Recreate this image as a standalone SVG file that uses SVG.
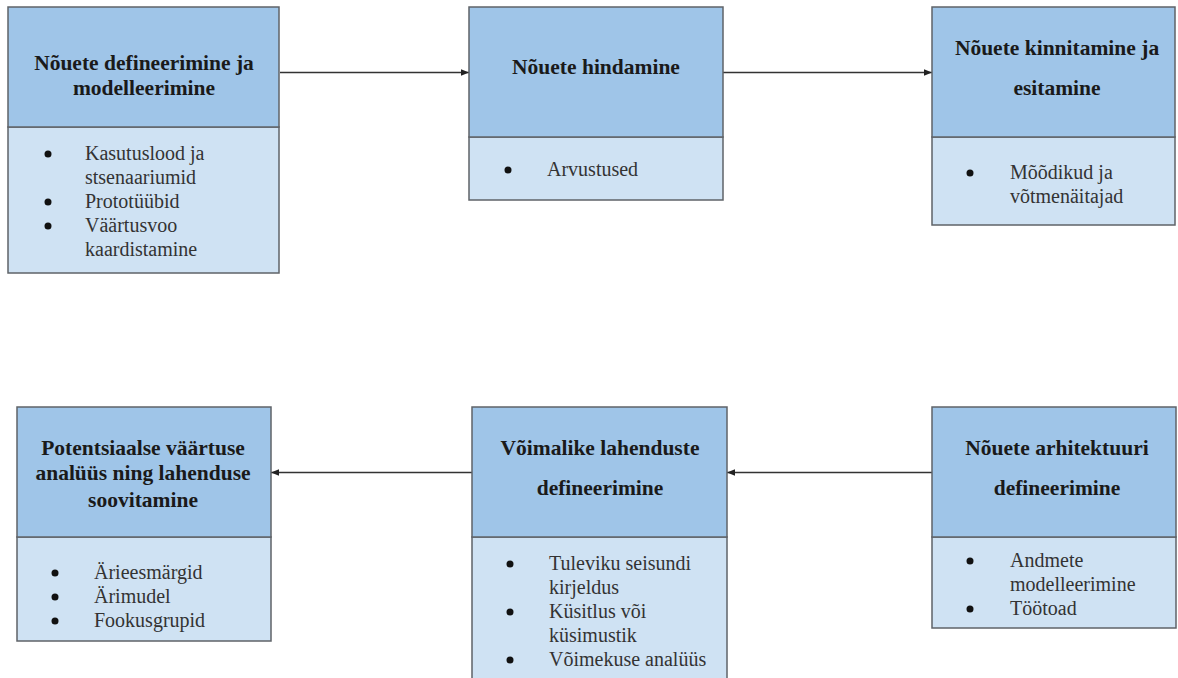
<svg xmlns="http://www.w3.org/2000/svg" width="1178" height="678" viewBox="0 0 1178 678">
<style>
.hd{fill:#9fc5e8;stroke:#5f6368;stroke-width:1.5}
.bd{fill:#cfe2f3;stroke:#5f6368;stroke-width:1.5}
.t{font-family:"Liberation Serif","Times New Roman",serif;font-weight:bold;font-size:21.5px;fill:#1a1a1a;text-anchor:middle}
.b{font-family:"Liberation Serif","Times New Roman",serif;font-size:20px;fill:#333}
.dot{fill:#111}
.c{stroke:#333;stroke-width:1.3;fill:none;marker-end:url(#ah)}
</style>
<defs>
<marker id="ah" viewBox="0 0 10 10" refX="10" refY="5" markerWidth="8" markerHeight="8" markerUnits="userSpaceOnUse" orient="auto">
<path d="M0,1 L10,5 L0,9 z" fill="#222"/>
</marker>
</defs>
<rect width="1178" height="678" fill="#fff"/>
<g id="connectors">
<line class="c" x1="280" y1="72.5" x2="469" y2="72.5"/>
<line class="c" x1="723" y1="72.5" x2="932" y2="72.5"/>
<line class="c" x1="932" y1="472.5" x2="727" y2="472.5"/>
<line class="c" x1="472" y1="472.5" x2="271" y2="472.5"/>
</g>
<g id="node1">
<rect class="bd" x="8" y="127" width="271" height="146"/>
<rect class="hd" x="8" y="7" width="271" height="120"/>
<text class="t" x="144" y="70">Nõuete defineerimine ja</text>
<text class="t" x="144" y="95">modelleerimine</text>
<circle class="dot" cx="48" cy="154" r="3.5"/>
<text class="b" x="85" y="160">Kasutuslood ja</text>
<text class="b" x="85" y="184">stsenaariumid</text>
<circle class="dot" cx="48" cy="202" r="3.5"/>
<text class="b" x="85" y="208">Prototüübid</text>
<circle class="dot" cx="48" cy="226" r="3.5"/>
<text class="b" x="85" y="232">Väärtusvoo</text>
<text class="b" x="85" y="256">kaardistamine</text>
</g>
<g id="node2">
<rect class="bd" x="469" y="137" width="254" height="63"/>
<rect class="hd" x="469" y="7" width="254" height="130"/>
<text class="t" x="596" y="74">Nõuete hindamine</text>
<circle class="dot" cx="508" cy="170" r="3.5"/>
<text class="b" x="547" y="176">Arvustused</text>
</g>
<g id="node3">
<rect class="bd" x="932" y="137" width="243" height="88"/>
<rect class="hd" x="932" y="7" width="243" height="130"/>
<text class="t" x="1057" y="55">Nõuete kinnitamine ja</text>
<text class="t" x="1057" y="95">esitamine</text>
<circle class="dot" cx="970" cy="173" r="3.5"/>
<text class="b" x="1010" y="179">Mõõdikud ja</text>
<text class="b" x="1010" y="203">võtmenäitajad</text>
</g>
<g id="node4">
<rect class="bd" x="17" y="537" width="254" height="104"/>
<rect class="hd" x="17" y="407" width="254" height="130"/>
<text class="t" x="143" y="455">Potentsiaalse väärtuse</text>
<text class="t" x="143" y="480">analüüs ning lahenduse</text>
<text class="t" x="143" y="507">soovitamine</text>
<circle class="dot" cx="55" cy="573" r="3.5"/>
<text class="b" x="94" y="579">Äriees&#109;ärgid</text>
<circle class="dot" cx="55" cy="597" r="3.5"/>
<text class="b" x="94" y="603">Ärimudel</text>
<circle class="dot" cx="55" cy="621" r="3.5"/>
<text class="b" x="94" y="627">Fookusgrupid</text>
</g>
<g id="node5">
<rect class="bd" x="472" y="537" width="255" height="160"/>
<rect class="hd" x="472" y="407" width="255" height="130"/>
<text class="t" x="600" y="455">Võimalike lahenduste</text>
<text class="t" x="600" y="495">defineerimine</text>
<circle class="dot" cx="510" cy="564" r="3.5"/>
<text class="b" x="549" y="570">Tuleviku seisundi</text>
<text class="b" x="549" y="594">kirjeldus</text>
<circle class="dot" cx="510" cy="612" r="3.5"/>
<text class="b" x="549" y="618">Küsitlus või</text>
<text class="b" x="549" y="642">küsimustik</text>
<circle class="dot" cx="510" cy="660" r="3.5"/>
<text class="b" x="549" y="666">Võimekuse analüüs</text>
</g>
<g id="node6">
<rect class="bd" x="932" y="537" width="244" height="91"/>
<rect class="hd" x="932" y="407" width="244" height="130"/>
<text class="t" x="1057" y="455">Nõuete arhitektuuri</text>
<text class="t" x="1057" y="495">defineerimine</text>
<circle class="dot" cx="970" cy="561" r="3.5"/>
<text class="b" x="1010" y="567">Andmete</text>
<text class="b" x="1010" y="591">modelleerimine</text>
<circle class="dot" cx="970" cy="609" r="3.5"/>
<text class="b" x="1010" y="615">Töötoad</text>
</g>
</svg>
